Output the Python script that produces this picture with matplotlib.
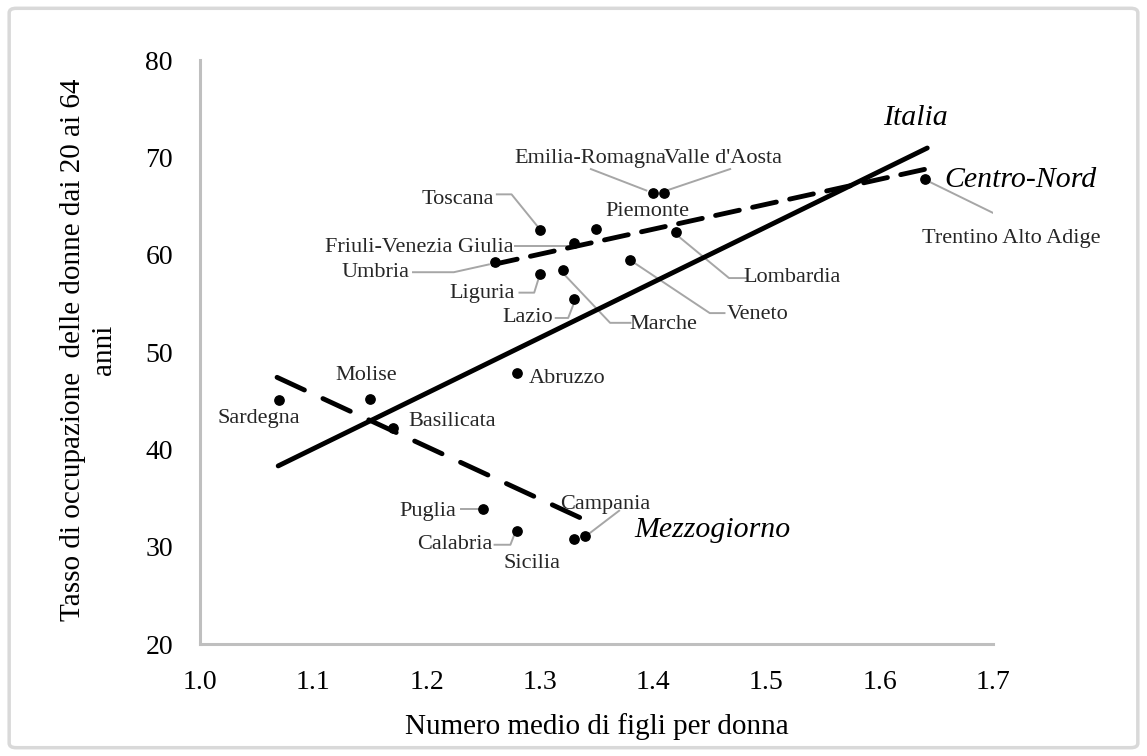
import matplotlib.pyplot as plt
from matplotlib.patches import FancyBboxPatch

plt.rcParams['font.family'] = ['Liberation Serif', 'DejaVu Serif']

# dati regionali: fecondità e tasso di occupazione femminile
regioni = ["Sardegna", "Molise", "Basilicata", "Abruzzo", "Puglia", "Calabria",
           "Sicilia", "Campania", "Lazio", "Liguria", "Marche", "Umbria",
           "Friuli-Venezia Giulia", "Toscana", "Piemonte", "Lombardia", "Veneto",
           "Emilia-Romagna", "Valle d'Aosta", "Trentino Alto Adige"]
figli = [1.07, 1.15, 1.17, 1.28, 1.25, 1.28, 1.33, 1.34, 1.33, 1.30, 1.32, 1.26,
         1.33, 1.30, 1.35, 1.42, 1.38, 1.40, 1.41, 1.64]
occupazione = [45.1, 45.2, 42.2, 47.8, 33.9, 31.6, 30.8, 31.1, 55.4, 58.0, 58.4, 59.2,
               61.2, 62.5, 62.6, 62.3, 59.5, 66.3, 66.3, 67.8]

# rette di tendenza (estremi)
italia_x = [1.069, 1.642]
italia_y = [38.3, 70.96]
centro_x = [1.259, 1.641]
centro_y = [59.0, 68.8]
mezzo_x = [1.068, 1.337]
mezzo_y = [47.4, 32.9]

# posizioni delle etichette e linee di richiamo (coordinate dati)
pos_etichette = {
    "Sardegna": (1.052, 43.2), "Molise": (1.147, 47.6), "Basilicata": (1.223, 42.9),
    "Abruzzo": (1.324, 47.3), "Puglia": (1.201, 33.6), "Calabria": (1.225, 30.2),
    "Sicilia": (1.293, 28.3), "Campania": (1.358, 34.3), "Lazio": (1.289, 53.5),
    "Liguria": (1.249, 56.0), "Marche": (1.409, 52.8), "Umbria": (1.155, 58.2),
    "Friuli-Venezia Giulia": (1.194, 60.7), "Toscana": (1.228, 65.7),
    "Piemonte": (1.395, 64.4), "Lombardia": (1.523, 57.7), "Veneto": (1.492, 53.9),
    "Emilia-Romagna": (1.345, 69.9), "Valle d'Aosta": (1.462, 69.9),
    "Trentino Alto Adige": (1.716, 61.7),
}
richiami = [
    ([1.230, 1.245], [33.9, 33.9]),
    ([1.260, 1.274, 1.278], [30.2, 30.2, 31.4]),
    ([1.343, 1.370], [31.3, 33.7]),
    ([1.314, 1.325, 1.330], [53.5, 53.5, 55.0]),
    ([1.282, 1.295, 1.299], [56.1, 56.1, 57.6]),
    ([1.318, 1.362, 1.380], [58.4, 53.0, 53.0]),
    ([1.188, 1.224, 1.255], [58.2, 58.2, 59.0]),
    ([1.278, 1.326], [60.9, 60.9]),
    ([1.262, 1.275, 1.298], [66.2, 66.2, 62.9]),
    ([1.418, 1.467, 1.482], [62.3, 57.6, 57.6]),
    ([1.379, 1.450, 1.463], [59.5, 54.0, 54.0]),
    ([1.345, 1.394], [68.8, 66.6]),
    ([1.468, 1.412], [68.8, 66.6]),
    ([1.642, 1.714], [67.6, 63.5]),
]

fig = plt.figure(figsize=(11.47, 7.56), dpi=100)
ax = fig.add_axes([0.1744, 0.1481, 0.6913, 0.7725])

grigio = "#a6a6a6"
for xs, ys in richiami:
    ax.plot(xs, ys, color=grigio, lw=1.4, zorder=1)

ax.plot(italia_x, italia_y, color="black", lw=3.5, solid_capstyle="round", zorder=2)
ax.plot(centro_x, centro_y, color="black", lw=3.5, dashes=(5, 2.8),
        dash_capstyle="round", zorder=2)
ax.plot(mezzo_x, mezzo_y, color="black", lw=3.5, dashes=(6.2, 4.2),
        dash_capstyle="round", zorder=2)

ax.scatter(figli, occupazione, s=45, color="black", zorder=3)

for nome in regioni:
    px, py = pos_etichette[nome]
    ax.text(px, py, nome, fontsize=16, ha="center", va="center",
            color="#262626", zorder=4)

ax.text(1.632, 74.0, "Italia", fontsize=21.5, style="italic", ha="center", va="center")
ax.text(1.724, 67.7, "Centro-Nord", fontsize=21.5, style="italic", ha="center", va="center")
ax.text(1.452, 31.7, "Mezzogiorno", fontsize=21.5, style="italic", ha="center", va="center")

ax.set_xlim(1.0, 1.7)
ax.set_ylim(20, 80)
ax.set_xticks([1.0, 1.1, 1.2, 1.3, 1.4, 1.5, 1.6, 1.7])
ax.set_xticklabels(["1.0", "1.1", "1.2", "1.3", "1.4", "1.5", "1.6", "1.7"])
ax.set_yticks([20, 30, 40, 50, 60, 70, 80])
ax.tick_params(length=0, labelsize=20)
ax.tick_params(axis="x", pad=18.5)
ax.tick_params(axis="y", pad=19.5)
for s in ["top", "right"]:
    ax.spines[s].set_visible(False)
for s in ["left", "bottom"]:
    ax.spines[s].set_color("#bfbfbf")
    ax.spines[s].set_linewidth(2.2)

fig.text(597 / 1147, 1 - 727 / 756, "Numero medio di figli per donna", fontsize=21,
         ha="center", va="center")
fig.text(89 / 1147, 1 - 350 / 756, "Tasso di occupazione  delle donne dai 20 ai 64\nanni",
         fontsize=21, ha="center", va="center", rotation=90, linespacing=1.25)

cornice = FancyBboxPatch((0.008, 0.011), 0.984, 0.978, boxstyle="round,pad=0,rounding_size=0.006",
                         transform=fig.transFigure, fill=False, edgecolor="#d9d9d9", lw=2.5)
fig.patches.append(cornice)

fig.savefig("out.png", dpi=100)
